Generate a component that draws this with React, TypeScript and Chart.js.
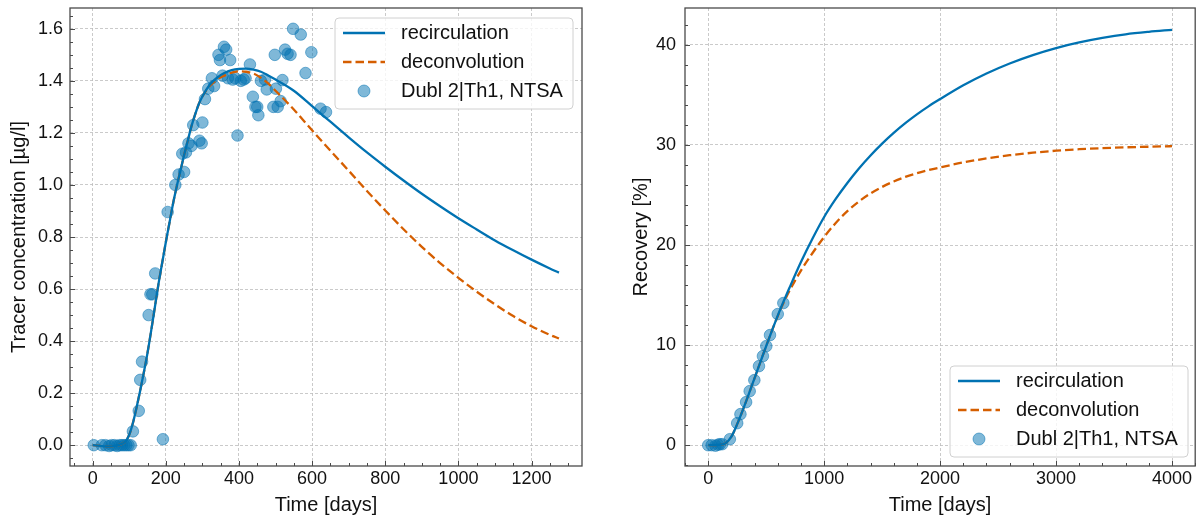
import React, { useEffect, useRef } from "react";
import { Chart, registerables } from "chart.js";

Chart.register(...registerables);

const FONT = '"Liberation Sans", Arial, Helvetica, sans-serif';
const BLUE = "#0072B2";
const ORANGE = "#D55E00";
const POINT_FILL = "rgba(0,114,178,0.5)";
const TEXT = "#111111";
const FRAME = "#4a4a4a";
const GRID = "#bdbdbd";
const LINE_W = 2.3;
const DASH = [8.5, 4];

// ---------- Left panel: tracer concentration ----------
const concObsDays = [
  3, 25, 35, 45, 52, 60, 67, 74, 80, 86, 92, 98, 104, 110, 126, 130, 135, 153, 158, 163, 171,
  192, 205, 226, 235, 245, 250, 255, 262, 270, 275, 292, 298, 300, 307, 316, 326, 332, 344,
  348, 355, 359, 365, 370, 376, 383, 390, 396, 405, 413, 418, 430, 438, 445, 450, 453, 460,
  471, 476, 494, 498, 501, 506, 514, 519, 526, 533, 541, 548, 569, 582, 598, 623, 638,
];
const concObsValues = [
  0, 0, 0, -0.003, 0, 0, -0.003, 0, 0, 0, 0, 0, 0, 0.053, 0.132, 0.251, 0.321, 0.5, 0.58, 0.58,
  0.66, 0.023, 0.896, 1.0, 1.04, 1.12, 1.05, 1.125, 1.16, 1.15, 1.23, 1.17, 1.16, 1.24, 1.33,
  1.37, 1.41, 1.38, 1.5, 1.48, 1.42, 1.531, 1.52, 1.41, 1.48, 1.405, 1.41, 1.19, 1.4, 1.405,
  1.41, 1.463, 1.339, 1.3, 1.3, 1.268, 1.4, 1.405, 1.367, 1.3, 1.5, 1.37, 1.3, 1.322, 1.403,
  1.52, 1.504, 1.5, 1.6, 1.578, 1.43, 1.51, 1.293, 1.28,
];
const concCurveDays = [
  0, 20, 40, 60, 80, 90, 100, 110, 120, 130, 140, 150, 160, 170, 180, 190, 200, 210, 220, 230,
  240, 250, 260, 270, 280, 290, 300, 320, 340, 360, 380, 400, 420, 440, 460, 480, 500, 550, 600,
  650, 700, 750, 800, 850, 900, 950, 1000, 1050, 1100, 1150, 1200, 1250, 1275,
];
const concRecirculation = [
  0, -0.003, -0.005, -0.003, 0.005, 0.015, 0.04, 0.085, 0.145, 0.21, 0.28, 0.355, 0.44, 0.53,
  0.62, 0.7, 0.78, 0.855, 0.93, 0.995, 1.055, 1.115, 1.17, 1.225, 1.27, 1.31, 1.34, 1.385, 1.412,
  1.43, 1.441, 1.446, 1.447, 1.443, 1.435, 1.421, 1.405, 1.362, 1.303, 1.243, 1.183, 1.125, 1.07,
  1.017, 0.966, 0.918, 0.872, 0.829, 0.787, 0.749, 0.713, 0.679, 0.663,
];
const concDeconvolution = [
  0, -0.003, -0.005, -0.003, 0.005, 0.015, 0.04, 0.085, 0.145, 0.21, 0.28, 0.355, 0.44, 0.53,
  0.62, 0.7, 0.78, 0.855, 0.93, 0.995, 1.055, 1.115, 1.17, 1.225, 1.27, 1.31, 1.34, 1.38, 1.405,
  1.42, 1.432, 1.437, 1.435, 1.428, 1.412, 1.39, 1.362, 1.29, 1.21, 1.132, 1.055, 0.977, 0.902,
  0.83, 0.762, 0.7, 0.643, 0.59, 0.541, 0.496, 0.457, 0.424, 0.41,
];
const concXTicks = [0, 200, 400, 600, 800, 1000, 1200];
const concYTicks = [0, 0.2, 0.4, 0.6, 0.8, 1.0, 1.2, 1.4, 1.6];

// ---------- Right panel: recovery ----------
const recObsDays = [0, 30, 63, 85, 101, 121, 187, 250, 278, 327, 358, 398, 438, 472, 501, 533, 600, 648];
const recObsValues = [0, 0, -0.05, 0.05, 0.1, 0.1, 0.6, 2.2, 3.1, 4.3, 5.4, 6.5, 7.9, 8.9, 9.9, 11.0, 13.1, 14.2];
const recCurveDays = [
  0, 50, 100, 150, 200, 250, 300, 350, 400, 450, 500, 550, 600, 650, 700, 800, 900, 1000, 1100,
  1200, 1300, 1400, 1500, 1600, 1700, 1800, 1900, 2000, 2200, 2400, 2600, 2800, 3000, 3200, 3400,
  3600, 3800, 4000,
];
const recRecirculation = [
  0, 0, 0.05, 0.2, 0.85, 2.1, 3.55, 5.1, 6.7, 8.3, 9.9, 11.45, 12.95, 14.35, 15.7, 18.3, 20.65,
  22.8, 24.6, 26.2, 27.65, 28.95, 30.13, 31.2, 32.17, 33.05, 33.85, 34.58, 35.96, 37.14, 38.14,
  38.98, 39.68, 40.24, 40.69, 41.05, 41.3, 41.5,
];
const recDeconvolution = [
  0, 0, 0.05, 0.2, 0.85, 2.1, 3.55, 5.1, 6.7, 8.3, 9.9, 11.45, 12.9, 14.22, 15.4, 17.45, 19.2,
  20.8, 22.2, 23.38, 24.35, 25.15, 25.8, 26.35, 26.8, 27.17, 27.48, 27.75, 28.25, 28.65, 28.97,
  29.22, 29.42, 29.57, 29.68, 29.76, 29.82, 29.87,
];
const recXTicks = [0, 1000, 2000, 3000, 4000];
const recYTicks = [0, 10, 20, 30, 40];

const seriesNames = ["recirculation", "deconvolution", "Dubl 2|Th1, NTSA"];

const toXY = (xs: number[], ys: number[]) => xs.map((x, i) => ({ x, y: ys[i] }));

const frameTicksPlugin = {
  id: "frameTicks",
  afterDraw(chart: any, _args: any, opts: any) {
    const { ctx, chartArea: a, scales } = chart;
    const xs = scales.x;
    const ys = scales.y;
    ctx.save();
    ctx.strokeStyle = FRAME;
    ctx.lineWidth = 1;
    ctx.beginPath();
    const drawTicks = (scale: any, minor: number, major: number, horizontal: boolean) => {
      const i0 = Math.ceil(scale.min / minor - 1e-9);
      const i1 = Math.floor(scale.max / minor + 1e-9);
      for (let i = i0; i <= i1; i++) {
        const v = i * minor;
        const r = v / major;
        const isMajor = Math.abs(r - Math.round(r)) < 1e-6;
        const len = isMajor ? 5 : 3;
        const p = Math.round(scale.getPixelForValue(v)) + 0.5;
        if (horizontal) {
          ctx.moveTo(p, a.bottom);
          ctx.lineTo(p, a.bottom - len);
        } else {
          ctx.moveTo(a.left, p);
          ctx.lineTo(a.left + len, p);
        }
      }
    };
    drawTicks(xs, opts.xMinor, opts.xMajor, true);
    drawTicks(ys, opts.yMinor, opts.yMajor, false);
    ctx.stroke();
    ctx.lineWidth = 1.3;
    ctx.strokeRect(a.left, a.top, a.right - a.left, a.bottom - a.top);

    // legend box
    const L = opts.legend;
    const r = 4;
    ctx.beginPath();
    ctx.moveTo(L.x + r, L.y);
    ctx.lineTo(L.x + L.w - r, L.y);
    ctx.arcTo(L.x + L.w, L.y, L.x + L.w, L.y + r, r);
    ctx.lineTo(L.x + L.w, L.y + L.h - r);
    ctx.arcTo(L.x + L.w, L.y + L.h, L.x + L.w - r, L.y + L.h, r);
    ctx.lineTo(L.x + r, L.y + L.h);
    ctx.arcTo(L.x, L.y + L.h, L.x, L.y + L.h - r, r);
    ctx.lineTo(L.x, L.y + r);
    ctx.arcTo(L.x, L.y, L.x + r, L.y, r);
    ctx.closePath();
    ctx.fillStyle = "rgba(255,255,255,0.8)";
    ctx.fill();
    ctx.strokeStyle = "#d0d0d0";
    ctx.lineWidth = 1;
    ctx.stroke();

    const rows = [L.y + 15, L.y + 44, L.y + 73];
    ctx.lineWidth = LINE_W;
    ctx.strokeStyle = BLUE;
    ctx.setLineDash([]);
    ctx.beginPath();
    ctx.moveTo(L.x + 8, rows[0]);
    ctx.lineTo(L.x + 50, rows[0]);
    ctx.stroke();
    ctx.strokeStyle = ORANGE;
    ctx.setLineDash(DASH);
    ctx.beginPath();
    ctx.moveTo(L.x + 8, rows[1]);
    ctx.lineTo(L.x + 50, rows[1]);
    ctx.stroke();
    ctx.setLineDash([]);
    ctx.beginPath();
    ctx.arc(L.x + 29, rows[2], 6, 0, Math.PI * 2);
    ctx.fillStyle = POINT_FILL;
    ctx.fill();
    ctx.lineWidth = 1;
    ctx.strokeStyle = POINT_FILL;
    ctx.stroke();

    ctx.fillStyle = TEXT;
    ctx.font = `20px ${FONT}`;
    ctx.textBaseline = "middle";
    ctx.textAlign = "left";
    seriesNames.forEach((name, i) => ctx.fillText(name, L.x + 66, rows[i]));
    ctx.restore();
  },
};

type PanelSpec = {
  curveDays: number[];
  recirc: number[];
  deconv: number[];
  obsDays: number[];
  obsValues: number[];
  xTicks: number[];
  yTicks: number[];
  xMin: number;
  xMax: number;
  yMin: number;
  yMax: number;
  yTitle: string;
  yDecimals: number;
  yWidth: number;
  padRight: number;
  yLabelPad: number;
  yTitlePad: number;
  minor: { xMinor: number; xMajor: number; yMinor: number; yMajor: number };
  legend: { x: number; y: number; w: number; h: number };
};

function makeConfig(p: PanelSpec): any {
  const gridOpts = { color: GRID, lineWidth: 0.8, drawTicks: false };
  const borderOpts = { display: false, dash: [3, 2] };
  return {
    type: "scatter",
    data: {
      datasets: [
        {
          label: seriesNames[0],
          data: toXY(p.curveDays, p.recirc),
          showLine: true,
          borderColor: BLUE,
          borderWidth: LINE_W,
          pointRadius: 0,
          cubicInterpolationMode: "monotone",
          fill: false,
        },
        {
          label: seriesNames[1],
          data: toXY(p.curveDays, p.deconv),
          showLine: true,
          borderColor: ORANGE,
          borderWidth: LINE_W,
          borderDash: DASH,
          pointRadius: 0,
          cubicInterpolationMode: "monotone",
          fill: false,
        },
        {
          label: seriesNames[2],
          data: toXY(p.obsDays, p.obsValues),
          showLine: false,
          pointRadius: 5.8,
          backgroundColor: POINT_FILL,
          borderColor: POINT_FILL,
          borderWidth: 1,
        },
      ],
    },
    options: {
      animation: false,
      responsive: false,
      maintainAspectRatio: false,
      devicePixelRatio: 1,
      layout: { padding: { left: 0, right: p.padRight, top: 8, bottom: 0 } },
      plugins: {
        legend: { display: false },
        tooltip: { enabled: false },
        frameTicks: { ...p.minor, legend: p.legend },
      },
      scales: {
        x: {
          type: "linear",
          min: p.xMin,
          max: p.xMax,
          afterBuildTicks: (s: any) => {
            s.ticks = p.xTicks.map((v) => ({ value: v }));
          },
          afterFit: (s: any) => {
            s.height = 54;
            s.paddingLeft = 0;
            s.paddingRight = 0;
          },
          grid: gridOpts,
          border: borderOpts,
          ticks: {
            font: { size: 18, family: FONT },
            color: TEXT,
            padding: 2,
            maxRotation: 0,
            autoSkip: false,
            callback: (v: any) => String(v),
          },
          title: {
            display: true,
            text: "Time [days]",
            font: { size: 20, family: FONT },
            color: TEXT,
            padding: { top: 0, bottom: 3 },
          },
        },
        y: {
          type: "linear",
          min: p.yMin,
          max: p.yMax,
          afterBuildTicks: (s: any) => {
            s.ticks = p.yTicks.map((v) => ({ value: v }));
          },
          afterFit: (s: any) => {
            s.width = p.yWidth;
            s.paddingTop = 0;
            s.paddingBottom = 0;
          },
          grid: gridOpts,
          border: borderOpts,
          ticks: {
            font: { size: 18, family: FONT },
            color: TEXT,
            padding: p.yLabelPad,
            autoSkip: false,
            callback: (v: any) => Number(v).toFixed(p.yDecimals),
          },
          title: {
            display: true,
            text: p.yTitle,
            font: { size: 20, family: FONT },
            color: TEXT,
            padding: { top: p.yTitlePad, bottom: 0 },
          },
        },
      },
    },
    plugins: [frameTicksPlugin],
  };
}

const leftSpec: PanelSpec = {
  curveDays: concCurveDays,
  recirc: concRecirculation,
  deconv: concDeconvolution,
  obsDays: concObsDays,
  obsValues: concObsValues,
  xTicks: concXTicks,
  yTicks: concYTicks,
  xMin: -62,
  xMax: 1338,
  yMin: -0.08,
  yMax: 1.68,
  yTitle: "Tracer concentration [µg/l]",
  yDecimals: 1,
  yWidth: 70,
  padRight: 18,
  yLabelPad: 7,
  yTitlePad: 7,
  minor: { xMinor: 50, xMajor: 200, yMinor: 0.05, yMajor: 0.2 },
  legend: { x: 335, y: 18, w: 238, h: 91 },
};

const rightSpec: PanelSpec = {
  curveDays: recCurveDays,
  recirc: recRecirculation,
  deconv: recDeconvolution,
  obsDays: recObsDays,
  obsValues: recObsValues,
  xTicks: recXTicks,
  yTicks: recYTicks,
  xMin: -200,
  xMax: 4200,
  yMin: -2.08,
  yMax: 43.68,
  yTitle: "Recovery [%]",
  yDecimals: 0,
  yWidth: 85,
  padRight: 5,
  yLabelPad: 9,
  yTitlePad: 29,
  minor: { xMinor: 200, xMajor: 1000, yMinor: 2, yMajor: 10 },
  legend: { x: 350, y: 366, w: 238, h: 91 },
};

function Panel({ spec, left, width }: { spec: PanelSpec; left: number; width: number }) {
  const ref = useRef<HTMLCanvasElement | null>(null);
  useEffect(() => {
    if (!ref.current) return;
    const chart = new Chart(ref.current, makeConfig(spec));
    return () => chart.destroy();
  }, [spec]);
  return (
    <canvas
      ref={ref}
      width={width}
      height={520}
      style={{ position: "absolute", left, top: 0, width, height: 520 }}
    />
  );
}

export default function App() {
  return (
    <div
      style={{
        position: "absolute",
        left: 0,
        top: 0,
        width: 1202,
        height: 520,
        background: "#ffffff",
        overflow: "hidden",
      }}
    >
      <Panel spec={leftSpec} left={0} width={600} />
      <Panel spec={rightSpec} left={600} width={602} />
    </div>
  );
}
